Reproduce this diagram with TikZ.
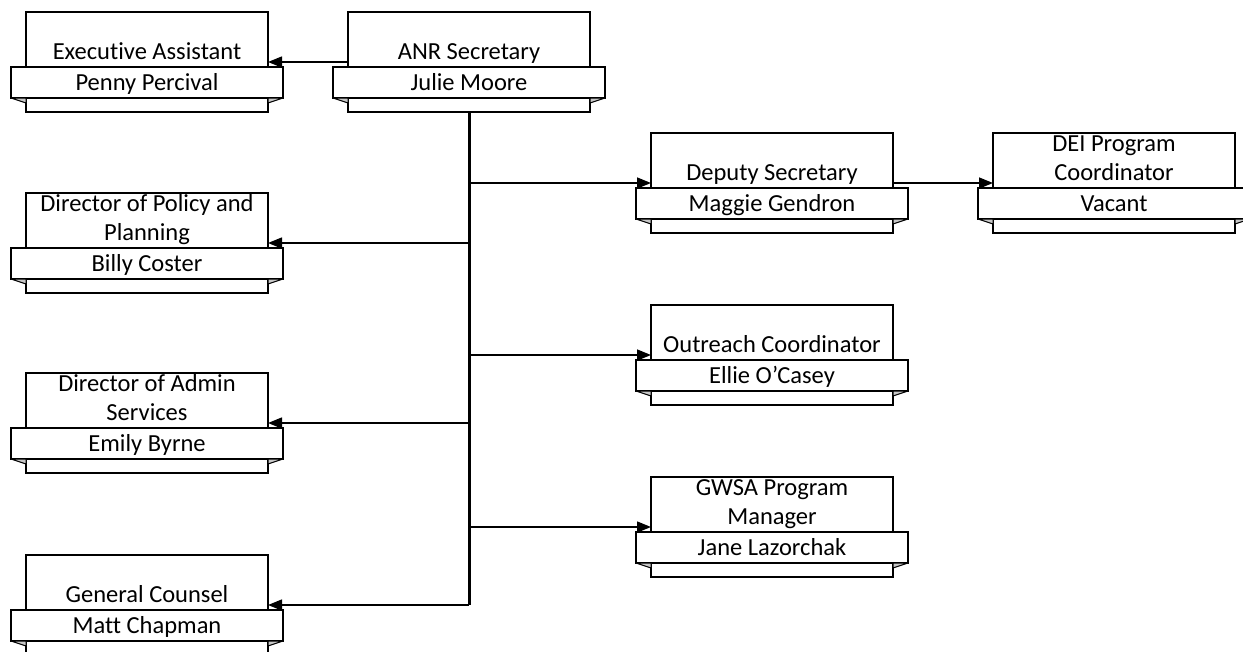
\documentclass[tikz,border=0pt]{standalone}
\usepackage{fontspec}
\setmainfont{Carlito}[Ligatures=NoCommon]
\usetikzlibrary{arrows.meta}
\tikzset{
 unit/.style={draw, line width=1.2pt, fill=white, minimum width=242pt, minimum height=100pt, inner sep=0pt, outer sep=0pt, anchor=north west},
 banner/.style={draw, line width=1.2pt, fill=white, minimum width=272pt, minimum height=31pt, inner sep=0pt, outer sep=0pt, anchor=north},
 fold/.style={draw, line width=1pt, fill=black!22, line join=round},
 title/.style={font=\fontsize{24.5}{29}\selectfont, align=center, anchor=south, inner sep=0pt, text depth=0pt},
 person/.style={font=\fontsize{24.5}{29}\selectfont, anchor=base, inner sep=0pt},
 link/.style={line width=1.5pt, -{Triangle[length=14pt,width=11pt]}},
 trunk/.style={line width=3pt},
}
\newcommand\orgunit[5]{%
 \node[unit] (#1) at (#2,#3) {};
 \node[banner] (#1-b) at ([yshift=-55pt]#1.north) {};
 \draw[fold] (#1-b.south west) -- (#1.west |- #1-b.south) -- ([yshift=-5pt]#1.west |- #1-b.south) -- cycle;
 \draw[fold] (#1-b.south east) -- (#1.east |- #1-b.south) -- ([yshift=-5pt]#1.east |- #1-b.south) -- cycle;
 \node[title] (#1-t) at ([yshift=-48pt]#1.north) {#4};
 \node[person] (#1-p) at ([yshift=-23pt]#1-b.north) {#5};
}
\begin{document}
\begin{tikzpicture}[x=1pt,y=-1pt]
\useasboundingbox (0,0) rectangle (1243,651);
\orgunit{exec}{26}{12}{Executive Assistant}{Penny Percival}
\orgunit{anr}{348}{12}{ANR Secretary}{Julie Moore}
\orgunit{policy}{26}{193}{Director of Policy and\\Planning}{Billy Coster}
\orgunit{admin}{26}{373}{Director of Admin\\Services}{Emily Byrne}
\orgunit{gc}{26}{555}{General Counsel}{Matt Chapman}
\orgunit{dep}{651}{133}{Deputy Secretary}{Maggie Gendron}
\orgunit{dei}{993}{133}{DEI Program\\Coordinator}{Vacant}
\orgunit{out}{651}{305}{Outreach Coordinator}{Ellie O’Casey}
\orgunit{gwsa}{651}{477}{GWSA Program\\Manager}{Jane Lazorchak}
\draw[link] (anr.west) -- (exec.east);
\draw[trunk] (anr.south) -- (anr.south |- gc.east);
\draw[link] (anr.south |- policy.east) -- (policy.east);
\draw[link] (anr.south |- admin.east) -- (admin.east);
\draw[link] (anr.south |- gc.east) -- (gc.east);
\draw[link] (anr.south |- dep.west) -- (dep.west);
\draw[link] (anr.south |- out.west) -- (out.west);
\draw[link] (anr.south |- gwsa.west) -- (gwsa.west);
\draw[link] (dep.east) -- (dei.west);
\end{tikzpicture}
\end{document}
